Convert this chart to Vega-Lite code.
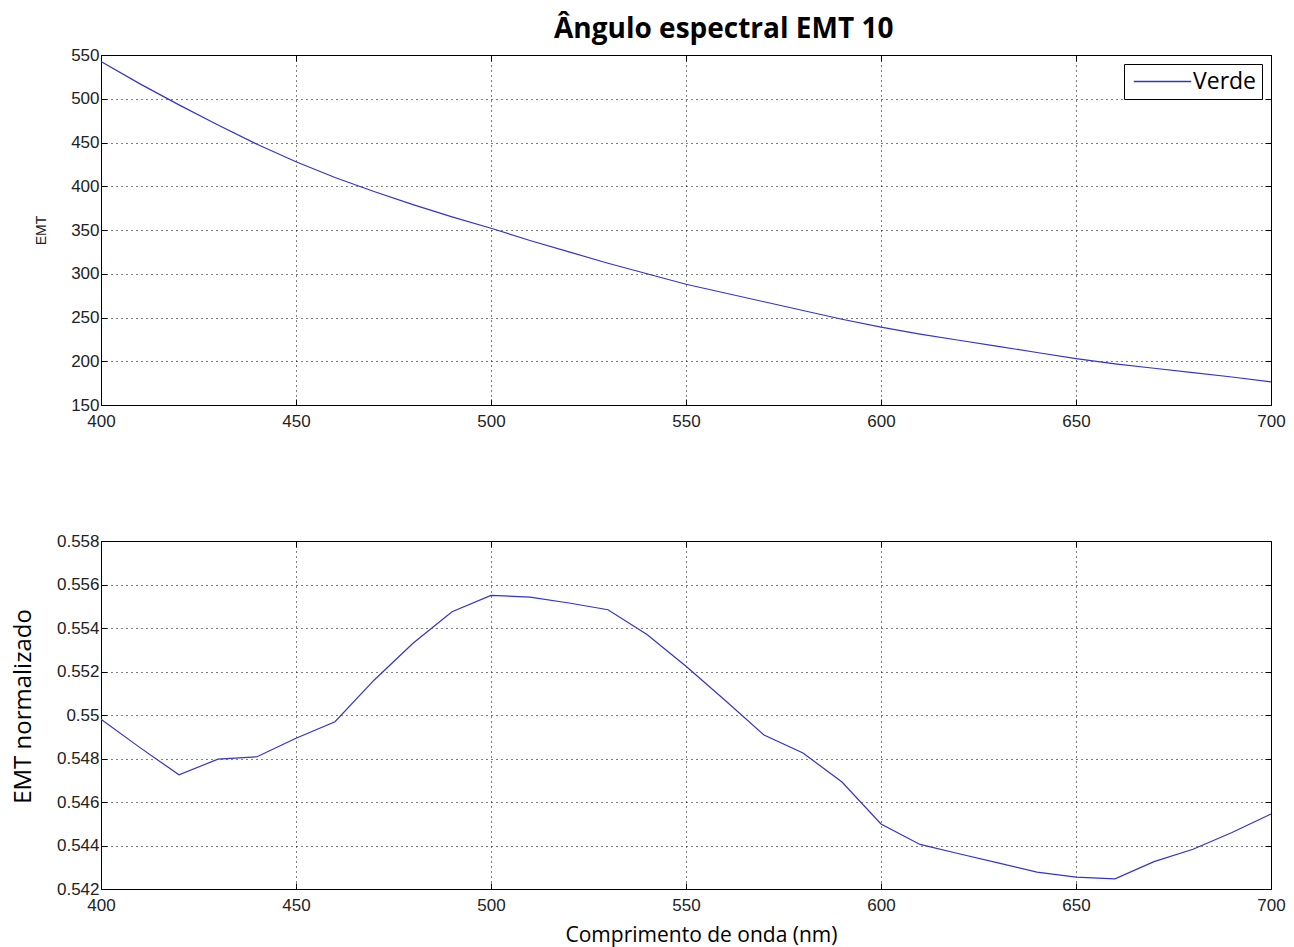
{
  "$schema": "https://vega.github.io/schema/vega-lite/v6.json",
  "background": "white",
  "padding": {"left": 10, "top": 15, "right": 10, "bottom": 5},
  "title": {"text": "Ângulo espectral EMT 10", "font": "Open Sans", "fontWeight": "bold", "fontSize": 28, "color": "black", "anchor": "start", "frame": "group", "dx": 453, "offset": 2},
  "config": {
    "view": {"stroke": "black", "strokeWidth": 1},
    "axis": {
      "labelFont": "Liberation Sans", "labelFontSize": 17, "labelColor": "#222", "labelOverlap": false, "labelFlush": false,
      "domain": false, "tickColor": "black", "tickSize": -6, "tickWidth": 1,
      "grid": true, "gridColor": "black", "gridDash": [1, 4], "gridOpacity": 1, "gridWidth": 1
    },
    "legend": {"labelFont": "Open Sans", "labelFontSize": 23, "labelColor": "black"}
  },
  "datasets": {
    "emt": [
      {"nm": 400, "emt": 542.5, "norm": 0.5498, "serie": "Verde"},
      {"nm": 410, "emt": 517, "norm": 0.5485, "serie": "Verde"},
      {"nm": 420, "emt": 493, "norm": 0.54725, "serie": "Verde"},
      {"nm": 430, "emt": 470, "norm": 0.54797, "serie": "Verde"},
      {"nm": 440, "emt": 448, "norm": 0.54808, "serie": "Verde"},
      {"nm": 450, "emt": 428, "norm": 0.54893, "serie": "Verde"},
      {"nm": 460, "emt": 410, "norm": 0.54969, "serie": "Verde"},
      {"nm": 470, "emt": 394, "norm": 0.55160, "serie": "Verde"},
      {"nm": 480, "emt": 379, "norm": 0.55330, "serie": "Verde"},
      {"nm": 490, "emt": 365, "norm": 0.55475, "serie": "Verde"},
      {"nm": 500, "emt": 352, "norm": 0.55550, "serie": "Verde"},
      {"nm": 510, "emt": 338, "norm": 0.55542, "serie": "Verde"},
      {"nm": 520, "emt": 325, "norm": 0.55515, "serie": "Verde"},
      {"nm": 530, "emt": 312, "norm": 0.55484, "serie": "Verde"},
      {"nm": 540, "emt": 300, "norm": 0.55370, "serie": "Verde"},
      {"nm": 550, "emt": 288, "norm": 0.55224, "serie": "Verde"},
      {"nm": 560, "emt": 278, "norm": 0.55068, "serie": "Verde"},
      {"nm": 570, "emt": 268, "norm": 0.54908, "serie": "Verde"},
      {"nm": 580, "emt": 258, "norm": 0.54825, "serie": "Verde"},
      {"nm": 590, "emt": 248, "norm": 0.54692, "serie": "Verde"},
      {"nm": 600, "emt": 239, "norm": 0.54499, "serie": "Verde"},
      {"nm": 610, "emt": 231, "norm": 0.54405, "serie": "Verde"},
      {"nm": 620, "emt": 224, "norm": 0.54362, "serie": "Verde"},
      {"nm": 630, "emt": 217, "norm": 0.54320, "serie": "Verde"},
      {"nm": 640, "emt": 210, "norm": 0.54278, "serie": "Verde"},
      {"nm": 650, "emt": 203, "norm": 0.54255, "serie": "Verde"},
      {"nm": 660, "emt": 197, "norm": 0.54247, "serie": "Verde"},
      {"nm": 670, "emt": 192, "norm": 0.54326, "serie": "Verde"},
      {"nm": 680, "emt": 187, "norm": 0.54383, "serie": "Verde"},
      {"nm": 690, "emt": 182, "norm": 0.54460, "serie": "Verde"},
      {"nm": 700, "emt": 176.5, "norm": 0.54545, "serie": "Verde"}
    ]
  },
  "bounds": "flush",
  "spacing": 136,
  "vconcat": [
    {
      "width": 1170, "height": 350,
      "data": {"name": "emt"},
      "layer": [
        {
          "mark": {"type": "line", "color": "#3434c6", "strokeWidth": 1.2},
          "encoding": {
            "x": {"field": "nm", "type": "quantitative", "scale": {"domain": [400, 700], "nice": false, "zero": false},
                  "axis": {"title": null, "values": [400, 450, 500, 550, 600, 650, 700], "labelPadding": 14}},
            "y": {"field": "emt", "type": "quantitative", "scale": {"domain": [150, 550], "nice": false, "zero": false},
                  "axis": {"title": "EMT", "titleFont": "Liberation Sans", "titleFontSize": 14, "titleFontWeight": "normal", "titleColor": "#222", "titlePadding": 22,
                           "values": [150, 200, 250, 300, 350, 400, 450, 500, 550], "labelPadding": 8}},
            "stroke": {"field": "serie", "type": "nominal", "scale": {"range": ["#3434c6"]},
                       "legend": {"title": null, "orient": "top-right", "offset": 9, "symbolType": "M-2.5,0H2.5", "symbolSize": 529, "symbolStrokeWidth": 1.4, "symbolStrokeColor": "#3434c6",
                                  "symbolOffset": 21, "labelOffset": 18, "strokeColor": "black", "fillColor": "white", "padding": 5}}
          }
        },
        {
          "mark": {"type": "line", "opacity": 0},
          "encoding": {
            "x": {"field": "nm", "type": "quantitative",
                  "axis": {"orient": "top", "title": null, "labels": false, "grid": false, "values": [400, 450, 500, 550, 600, 650, 700]}},
            "y": {"field": "emt", "type": "quantitative",
                  "axis": {"orient": "right", "title": null, "labels": false, "grid": false, "values": [150, 200, 250, 300, 350, 400, 450, 500, 550]}}
          }
        }
      ],
      "resolve": {"axis": {"x": "independent", "y": "independent"}}
    },
    {
      "width": 1170, "height": 348,
      "data": {"name": "emt"},
      "layer": [
        {
          "mark": {"type": "line", "color": "#3434c6", "strokeWidth": 1.2},
          "encoding": {
            "x": {"field": "nm", "type": "quantitative", "scale": {"domain": [400, 700], "nice": false, "zero": false},
                  "axis": {"title": "Comprimento de onda (nm)", "titleFont": "Open Sans", "titleFontSize": 21, "titleFontWeight": "normal", "titleColor": "black", "titlePadding": 11, "titleX": 600,
                           "values": [400, 450, 500, 550, 600, 650, 700], "labelPadding": 14}},
            "y": {"field": "norm", "type": "quantitative", "scale": {"domain": [0.542, 0.558], "nice": false, "zero": false},
                  "axis": {"title": "EMT normalizado", "titleFont": "Open Sans", "titleFontSize": 24, "titleFontWeight": "normal", "titleColor": "black", "titlePadding": 21, "titleY": 165,
                           "values": [0.542, 0.544, 0.546, 0.548, 0.55, 0.552, 0.554, 0.556, 0.558], "format": "~g", "labelPadding": 8}}
          }
        },
        {
          "mark": {"type": "line", "opacity": 0},
          "encoding": {
            "x": {"field": "nm", "type": "quantitative",
                  "axis": {"orient": "top", "title": null, "labels": false, "grid": false, "values": [400, 450, 500, 550, 600, 650, 700]}},
            "y": {"field": "norm", "type": "quantitative",
                  "axis": {"orient": "right", "title": null, "labels": false, "grid": false, "values": [0.542, 0.544, 0.546, 0.548, 0.55, 0.552, 0.554, 0.556, 0.558]}}
          }
        }
      ],
      "resolve": {"axis": {"x": "independent", "y": "independent"}}
    }
  ]
}
